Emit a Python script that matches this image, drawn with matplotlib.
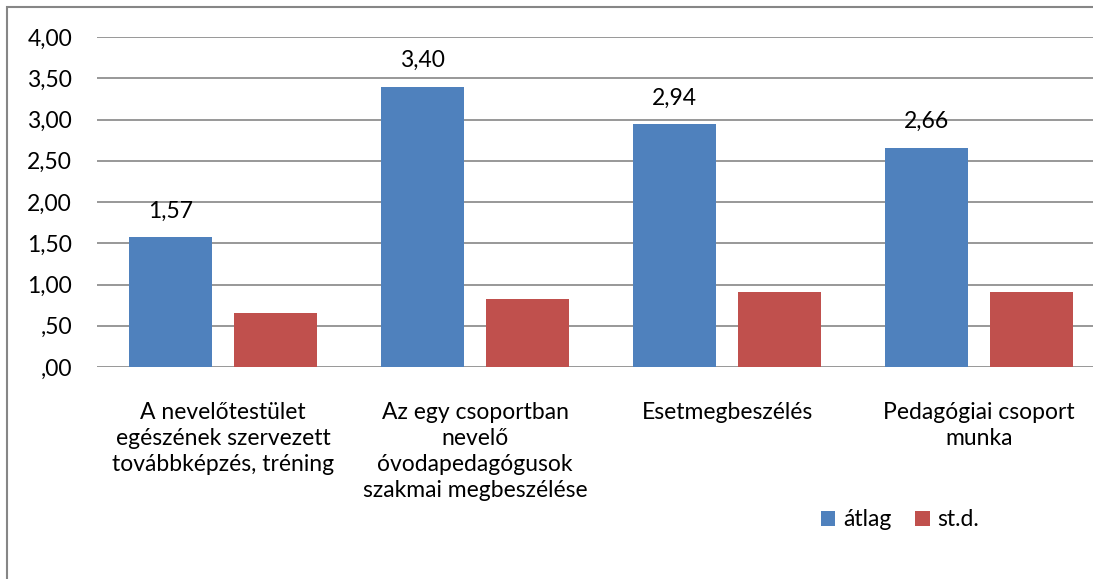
import matplotlib
matplotlib.use("Agg")
import matplotlib.pyplot as plt
import numpy as np
from matplotlib.patches import Rectangle
from matplotlib.ticker import FuncFormatter

# adatok
kategoriak = [
    "A nevelőtestület\negészének szervezett\ntovábbképzés, tréning",
    "Az egy csoportban\nnevelő\nóvodapedagógusok\nszakmai megbeszélése",
    "Esetmegbeszélés",
    "Pedagógiai csoport\nmunka",
]
atlag = [1.57, 3.40, 2.94, 2.66]
std = [0.65, 0.83, 0.91, 0.91]
sorozatok = ["átlag", "st.d."]
szinek = ["#4F81BD", "#C0504D"]


def hu_szam(v):
    s = f"{v:.2f}".replace(".", ",")
    if s.startswith("0,"):
        s = s[1:]
    return s


plt.rcParams["font.family"] = ["Lato", "DejaVu Sans"]
FS = 16.5

fig = plt.figure(figsize=(10.93, 5.79), dpi=100)
W, H = 1093, 579

# diagram kerete (jobb és alsó széle levágva)
fig.patches.append(Rectangle((7 / W, -0.1), 1.2, (H - 7) / H + 0.1,
                             transform=fig.transFigure, fill=False,
                             edgecolor="#868686", linewidth=1.5))

ax = fig.add_axes([97 / W, (H - 367) / H, 1008 / W, 330 / H])

x = np.arange(len(kategoriak))
szel = 0.33
b1 = ax.bar(x - 0.208, atlag, width=szel, color=szinek[0], label=sorozatok[0], zorder=3)
b2 = ax.bar(x + 0.208, std, width=szel, color=szinek[1], label=sorozatok[1], zorder=3)

for rect, v in zip(b1, atlag):
    ax.annotate(hu_szam(v), (rect.get_x() + rect.get_width() / 2, v),
                xytext=(0, 19), textcoords="offset points",
                ha="center", va="center", fontsize=FS, color="black")

ax.set_xlim(-0.5, 3.5)
ax.set_ylim(0, 4)
ax.set_yticks(np.arange(0, 4.01, 0.5))
ax.yaxis.set_major_formatter(FuncFormatter(lambda v, p: hu_szam(v)))
ax.grid(axis="y", color="#868686", linewidth=1.2, zorder=0)
for sp in ax.spines.values():
    sp.set_visible(False)
ax.tick_params(axis="y", length=0, pad=18, labelsize=FS)
ax.tick_params(axis="x", length=0, pad=25, labelsize=FS)
ax.set_xticks(x)
ax.set_xticklabels(kategoriak, linespacing=1.3)

fig.legend(handles=[b1, b2], labels=sorozatok, loc="center",
           bbox_to_anchor=(900 / W, (H - 520) / H), ncol=2, frameon=False,
           fontsize=FS, handlelength=0.65, handleheight=0.65, handletextpad=0.35,
           columnspacing=1.0)

fig.savefig("out.png", dpi=100)
